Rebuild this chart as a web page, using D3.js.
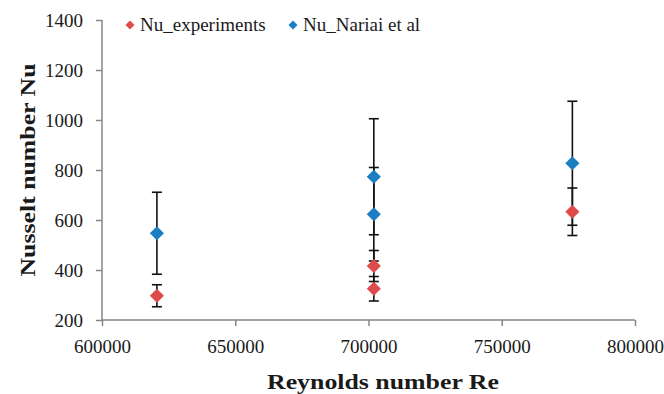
<!DOCTYPE html>
<html><head><meta charset="utf-8">
<script src="https://cdn.jsdelivr.net/npm/d3@7"></script>
<style>body{margin:0;background:#fff}svg{display:block}</style>
</head><body>
<script>
const reExp = [620600, 702000, 702000, 776500];
const nuExp = [297, 325, 416, 633];
const errExp = [44, 49, 62, 95];
const reNar = [620600, 702000, 702000, 776500];
const nuNar = [547, 623, 773, 827];
const errNar = [164, 187, 232, 248];
const xTicks = [600000, 650000, 700000, 750000, 800000];
const yTicks = [200, 400, 600, 800, 1000, 1200, 1400];
const seriesNames = ["Nu_experiments", "Nu_Nariai et al"];
const colors = ["#DE4B4B", "#1C7EC2"];

const W = 664, H = 394;
const svg = d3.select("body").append("svg").attr("width", W).attr("height", H);
const font = "Liberation Serif";
const x = d3.scaleLinear().domain([600000, 800000]).range([102, 635]);
const y = d3.scaleLinear().domain([200, 1400]).range([320, 20]);

const gx = svg.append("g").attr("transform", "translate(0,320)")
  .call(d3.axisBottom(x).tickValues(xTicks).tickSize(6).tickPadding(14).tickFormat(d3.format("d")));
const gy = svg.append("g").attr("transform", "translate(102,0)")
  .call(d3.axisLeft(y).tickValues(yTicks).tickSize(6).tickPadding(13).tickFormat(d3.format("d")));
[gx, gy].forEach(g => {
  g.attr("font-family", font).attr("font-size", 19);
  g.selectAll("path,line").attr("stroke", "#868686").attr("stroke-width", 1.5);
  g.selectAll("text").attr("fill", "#1a1a1a").style("font-family", font);
});
gx.select(".domain").attr("d", `M${x(600000)},0H${x(800000)}`);
gy.select(".domain").attr("d", `M0,${y(200)}V${y(1400)}`);

svg.append("text").attr("x", 383).attr("y", 389).attr("text-anchor", "middle")
  .style("font-family", font).attr("font-weight", "bold").attr("font-size", 22).attr("fill", "#1a1a1a")
  .attr("textLength", 232).attr("lengthAdjust", "spacingAndGlyphs")
  .text("Reynolds number Re");
svg.append("text").attr("transform", "translate(35,170) rotate(-90)").attr("text-anchor", "middle")
  .style("font-family", font).attr("font-weight", "bold").attr("font-size", 22).attr("fill", "#1a1a1a")
  .attr("textLength", 213).attr("lengthAdjust", "spacingAndGlyphs")
  .text("Nusselt number Nu");

const series = [
  {re: reExp, nu: nuExp, err: errExp, color: colors[0]},
  {re: reNar, nu: nuNar, err: errNar, color: colors[1]}
];
const diamond = d3.symbol().type(d3.symbolSquare).size(100);
const eg = svg.append("g");
series.forEach(s => {
  s.re.forEach((r, i) => {
    const cx = x(r), t = y(s.nu[i] + s.err[i]), b = y(s.nu[i] - s.err[i]);
    eg.append("line").attr("x1", cx).attr("x2", cx).attr("y1", t).attr("y2", b)
      .attr("stroke", "#111").attr("stroke-width", 1.6);
    [t, b].forEach(v => eg.append("line").attr("x1", cx - 5).attr("x2", cx + 5).attr("y1", v).attr("y2", v)
      .attr("stroke", "#111").attr("stroke-width", 1.6));
  });
});
series.forEach(s => {
  svg.append("g").selectAll("path").data(s.re.map((r, i) => [r, s.nu[i]])).join("path")
    .attr("d", diamond).attr("fill", s.color)
    .attr("transform", d => `translate(${x(d[0])},${y(d[1])}) rotate(45)`);
});

const legX = [130, 293];
seriesNames.forEach((n, i) => {
  svg.append("path").attr("d", d3.symbol().type(d3.symbolSquare).size(40)).attr("fill", colors[i])
    .attr("transform", `translate(${legX[i]},25) rotate(45)`);
  svg.append("text").attr("x", legX[i] + 10).attr("y", 30.5).style("font-family", font).attr("font-size", 19)
    .attr("fill", "#1a1a1a").text(n);
});
</script>
</body></html>
